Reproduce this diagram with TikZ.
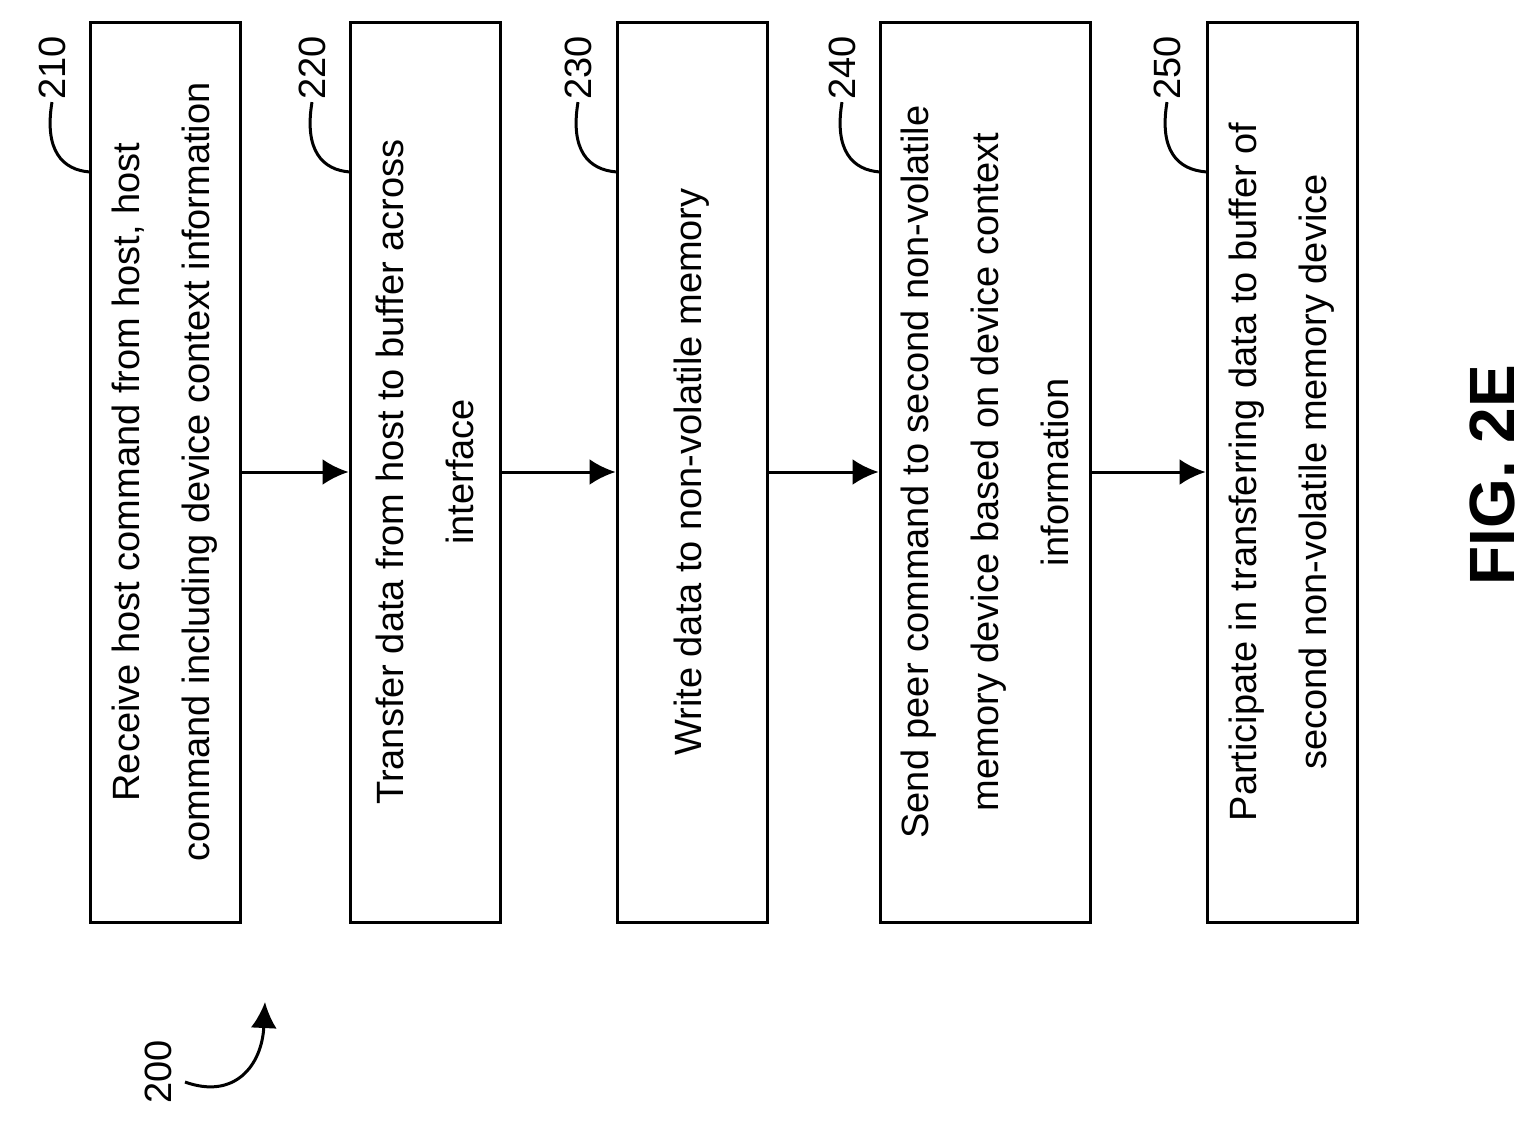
\documentclass[tikz,border=0pt]{standalone}
\usepackage{fontspec}
\setmainfont{Liberation Sans}
\usetikzlibrary{arrows.meta,positioning}
\tikzset{
    stepbox/.style={
        draw,
        line width=1.5pt,
        rectangle,
        rotate=90,
        minimum width=450pt,
        align=center,
        font=\fontsize{19}{35}\selectfont
    },
    reflabel/.style={
        rotate=90,
        inner sep=1pt,
        font=\fontsize{19}{22}\selectfont
    },
    flow/.style={
        -{Latex[length=13pt,width=13pt]},
        line width=1.5pt
    },
    leader/.style={
        line width=1.5pt
    },
}
\begin{document}
\begin{tikzpicture}[x=0.5pt,y=-0.5pt]
    \useasboundingbox (0,0) rectangle (1536,1124);
    % steps
    \node[stepbox, minimum height=75pt] (s210) at (165,472) {Receive host command from host, host\\command including device context information};
    \node[stepbox, minimum height=75pt] (s220) at (425,472) {Transfer data from host to buffer across\\interface};
    \node[stepbox, minimum height=75pt] (s230) at (692,472) {Write data to non-volatile memory};
    \node[stepbox, minimum height=105pt] (s240) at (985,472) {Send peer command to second non-volatile\\memory device based on device context\\information};
    \node[stepbox, minimum height=75pt] (s250) at (1282,472) {Participate in transferring data to buffer of\\second non-volatile memory device};

    % arrows
    \foreach \a/\b in {s210/s220, s220/s230, s230/s240, s240/s250}
        \draw[flow] (\a) -- (\b);

    % reference numerals
    \foreach \n/\x/\bx in {210/52/90, 220/312/350, 230/578/617, 240/842/880, 250/1167/1207} {
        \node[reflabel] (l\n) at (\x,68) {\n};
        \coordinate (e\n) at (\bx,172);
        \draw[leader] (l\n.west) .. controls (\x-8,150) and (\x+10,170) .. (e\n);
    }

    % figure reference
    \node[reflabel] (l200) at (158,1072) {200};
    \coordinate (s200) at (185,1082);
    \coordinate (e200) at (265,1002);
    \draw[flow] (s200) .. controls (235,1100) and (262,1065) .. (e200);

    % title
    \node[rotate=90, font=\fontsize{32}{36}\selectfont\bfseries] (fig) at (1492,475) {FIG. 2E};
\end{tikzpicture}
\end{document}
